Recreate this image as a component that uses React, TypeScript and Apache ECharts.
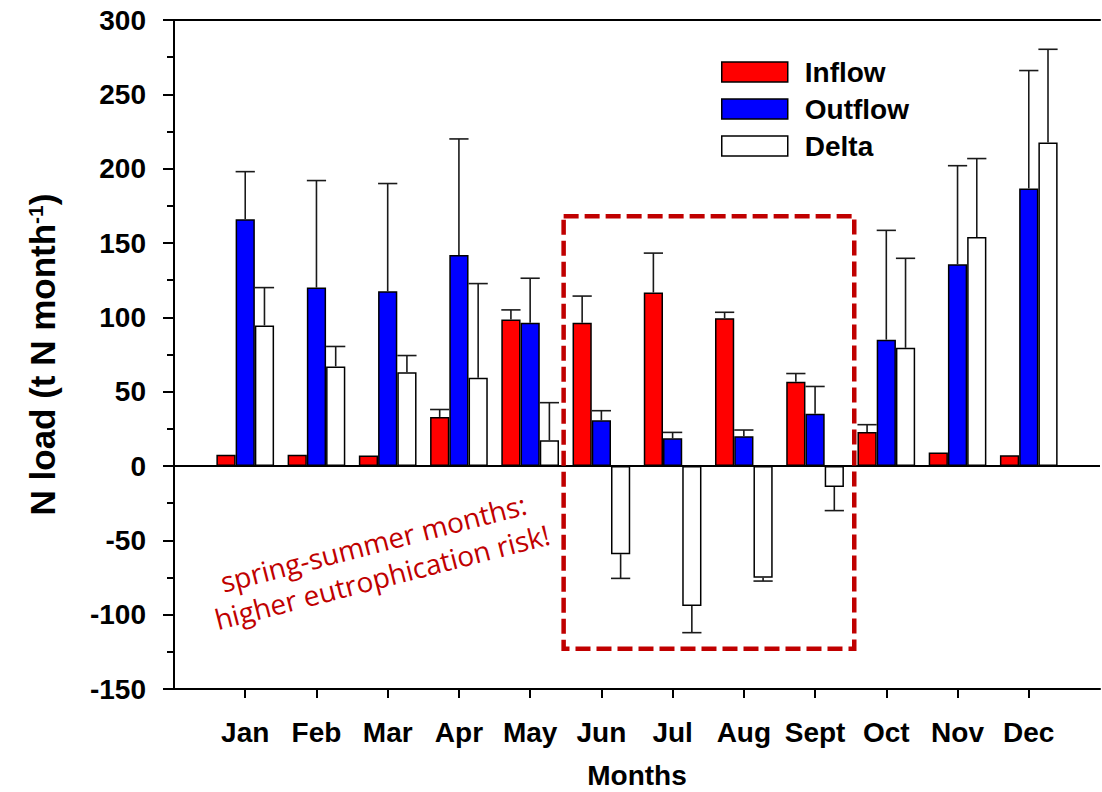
import { useEffect, useRef } from 'react';
import * as echarts from 'echarts';

// Monthly nitrogen loads (t N month^-1) with one-sided standard deviations
const months = ['Jan', 'Feb', 'Mar', 'Apr', 'May', 'Jun', 'Jul', 'Aug', 'Sept', 'Oct', 'Nov', 'Dec'];
const inflow = [7.5, 7.5, 7, 33, 98.5, 96.3, 116.7, 99.4, 56.7, 22.8, 9, 7.2];
const inflowErr = [0, 0, 0, 5, 6.5, 18, 26.5, 4, 5.5, 5, 0, 0];
const outflow = [166, 120, 117.5, 142, 96.3, 30.7, 18.6, 20, 35.2, 85, 135.7, 186.7];
const outflowErr = [32, 72, 72.5, 78, 30, 6.5, 4, 4.2, 18.3, 73.5, 66.3, 79.3];
const delta = [94.5, 67, 63, 59.4, 17.3, -59.3, -94.2, -75.2, -14.1, 79.5, 154, 217.6];
const deltaErr = [25.5, 13.4, 11.3, 63.3, 25.3, 16.3, 17.9, 2.2, 15.9, 60.2, 52.8, 62.7];

// y axis range and step
const yMin = -150;
const yMax = 300;
const yStep = 50;

// highlighted spring-summer window (axis units: category index, N load)
const boxX = [5.47, 9.55];
const boxY = [-123, 168];
// note anchor (centre of the text block) in axis units
const noteAt = [2.86, -63];

const FONT = '"Liberation Sans", Arial, sans-serif';
const BAR_FRACTION = 0.27;

// one empty slot on each side of the twelve months
const categories = ['', ...months, ''];
const padded = (arr: number[]) => ['-', ...arr, '-'];

function errorSeries(name: string, values: number[], errs: number[], slot: number) {
  return {
    type: 'custom',
    name,
    z: 4,
    silent: true,
    encode: { x: 0, y: 1 },
    data: values.map((v, i) => [i + 1, v, errs[i]]),
    renderItem: (_params: any, api: any) => {
      const idx = api.value(0);
      const v = api.value(1);
      const e = api.value(2);
      if (!e) return null;
      const band = api.size([1, 0])[0];
      const bw = band * BAR_FRACTION;
      const p0 = api.coord([idx, v]);
      const p1 = api.coord([idx, v >= 0 ? v + e : v - e]);
      const x = p0[0] + (slot - 1) * bw;
      const style = { stroke: '#1a1a1a', lineWidth: 1.6 };
      return {
        type: 'group',
        children: [
          { type: 'line', shape: { x1: x, y1: p0[1], x2: x, y2: p1[1] }, style },
          { type: 'line', shape: { x1: x - bw / 2, y1: p1[1], x2: x + bw / 2, y2: p1[1] }, style },
        ],
      };
    },
  };
}

export default function App() {
  const ref = useRef<HTMLDivElement>(null);

  useEffect(() => {
    document.body.style.margin = '0';
    if (!ref.current) return;
    const chart = echarts.init(ref.current, null, { renderer: 'svg' });

    const barBorder = { borderColor: '#000', borderWidth: 1.5 };
    const tickFont = { fontFamily: FONT, fontWeight: 'bold' as const, fontSize: 28, color: '#000' };

    chart.setOption({
      animation: false,
      backgroundColor: '#ffffff',
      grid: { left: 174, right: 2, top: 20, bottom: 103, containLabel: false, outerBoundsMode: 'none' },
      legend: {
        data: ['Inflow', 'Outflow', 'Delta'],
        orient: 'vertical',
        left: 716,
        top: 53,
        icon: 'rect',
        itemWidth: 66,
        itemHeight: 20,
        itemGap: 9,
        itemStyle: { borderColor: '#000', borderWidth: 1.5 },
        textStyle: { ...tickFont, fontSize: 28, lineHeight: 28, padding: [0, 0, 0, 12] },
      },
      xAxis: [
        {
          type: 'category',
          data: categories,
          boundaryGap: false,
          position: 'bottom',
          name: 'Months',
          nameLocation: 'middle',
          nameGap: 72,
          nameTextStyle: { ...tickFont, fontSize: 28, lineHeight: 28 },
          axisLine: { onZero: false, lineStyle: { color: '#000', width: 2 } },
          axisTick: {
            show: true,
            length: 9,
            interval: (i: number) => i >= 1 && i <= months.length,
            lineStyle: { color: '#000', width: 2 },
          },
          axisLabel: { ...tickFont, fontSize: 28, interval: 0, margin: 29 },
          splitLine: { show: false },
        },
        {
          type: 'category',
          data: categories,
          boundaryGap: false,
          position: 'top',
          axisLine: { onZero: false, lineStyle: { color: '#000', width: 2 } },
          axisTick: { show: false },
          axisLabel: { show: false },
          splitLine: { show: false },
        },
      ],
      yAxis: {
        type: 'value',
        min: yMin,
        max: yMax,
        interval: yStep,
        name: '{b|N load (t N month}{s|-1}{b|)}',
        nameLocation: 'middle',
        nameGap: 114,
        nameTextStyle: {
          fontSize: 35,
          rich: {
            b: { fontFamily: FONT, fontWeight: 'bold', fontSize: 35, color: '#000' },
            s: { fontFamily: FONT, fontWeight: 'bold', fontSize: 21, color: '#000', verticalAlign: 'top' },
          },
        },
        axisLine: { show: true, lineStyle: { color: '#000', width: 2 } },
        axisTick: { show: true, length: 11, lineStyle: { color: '#000', width: 2 } },
        minorTick: { show: true, splitNumber: 2, length: 7, lineStyle: { color: '#000', width: 2 } },
        axisLabel: { ...tickFont, margin: 28 },
        splitLine: { show: false },
      },
      series: [
        {
          name: 'Inflow',
          type: 'bar',
          data: padded(inflow),
          barWidth: `${BAR_FRACTION * 100}%`,
          barGap: '0%',
          itemStyle: { color: '#FF0000', ...barBorder },
          markLine: {
            silent: true,
            symbol: 'none',
            label: { show: false },
            lineStyle: { color: '#000', width: 2, type: 'solid' },
            data: [{ yAxis: 0 }],
          },
        },
        {
          name: 'Outflow',
          type: 'bar',
          data: padded(outflow),
          barWidth: `${BAR_FRACTION * 100}%`,
          barGap: '0%',
          itemStyle: { color: '#0000FF', ...barBorder },
        },
        {
          name: 'Delta',
          type: 'bar',
          data: padded(delta),
          barWidth: `${BAR_FRACTION * 100}%`,
          barGap: '0%',
          itemStyle: { color: '#FFFFFF', ...barBorder },
        },
        errorSeries('Inflow SD', inflow, inflowErr, 0),
        errorSeries('Outflow SD', outflow, outflowErr, 1),
        errorSeries('Delta SD', delta, deltaErr, 2),
      ],
    });

    // axis units -> pixels, interpolating between category positions
    const toPx = (xv: number, yv: number) => {
      const i = Math.floor(xv);
      const f = xv - i;
      const a = chart.convertToPixel({ gridIndex: 0 }, [i, yv]) as number[];
      const b = chart.convertToPixel({ gridIndex: 0 }, [i + 1, yv]) as number[];
      return [a[0] + (b[0] - a[0]) * f, a[1]];
    };

    const tl = toPx(boxX[0], boxY[1]);
    const br = toPx(boxX[1], boxY[0]);
    const note = toPx(noteAt[0], noteAt[1]);

    chart.setOption({
      graphic: [
        {
          type: 'rect',
          z: 10,
          silent: true,
          shape: { x: tl[0], y: tl[1], width: br[0] - tl[0], height: br[1] - tl[1] },
          style: { fill: 'none', stroke: '#C00000', lineWidth: 4.5, lineDash: [15, 6] },
        },
        {
          type: 'text',
          z: 10,
          silent: true,
          x: note[0],
          y: note[1],
          rotation: (14.5 * Math.PI) / 180,
          style: {
            text: 'spring-summer months:\nhigher eutrophication risk!',
            fontFamily: '"Open Sans", sans-serif',
            fontSize: 28,
            lineHeight: 35,
            fill: '#C00000',
            align: 'center',
            verticalAlign: 'middle',
          },
        },
      ],
    });

    return () => chart.dispose();
  }, []);

  return <div ref={ref} style={{ width: 1102, height: 792 }} />;
}
